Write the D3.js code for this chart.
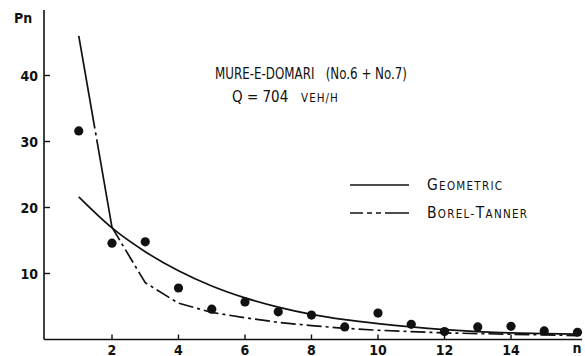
<!DOCTYPE html>
<html>
<head>
<meta charset="utf-8">
<script src="https://cdn.jsdelivr.net/npm/d3@7"></script>
<style>
  html, body { margin: 0; padding: 0; background: #fff; }
  svg { display: block; }
  .tick-label { font-family: "DejaVu Sans Condensed", "DejaVu Sans", sans-serif; font-weight: bold; font-size: 14px; fill: #111; }
  .note { font-family: "DejaVu Sans Condensed", "DejaVu Sans", sans-serif; font-size: 15px; fill: #111; }
</style>
</head>
<body>
<svg id="chart" width="585" height="356"></svg>
<script>
// Observed gap-count distribution and two fitted models
const nValues = [1, 2, 3, 4, 5, 6, 7, 8, 9, 10, 11, 12, 13, 14, 15, 16];
const observed = [31.6, 14.6, 14.8, 7.8, 4.6, 5.7, 4.2, 3.7, 1.9, 4.0, 2.3, 1.2, 1.9, 2.0, 1.3, 1.1];
const geometric = [21.6, 16.9, 13.3, 10.4, 8.1, 6.3, 4.9, 3.8, 3.0, 2.4, 1.9, 1.5, 1.2, 1.0, 0.9, 0.8];
const borelTanner = [46.0, 17.0, 8.6, 5.5, 4.1, 3.3, 2.6, 2.1, 1.7, 1.4, 1.2, 1.0, 0.9, 0.8, 0.7, 0.6];
const xTicks = [2, 4, 6, 8, 10, 12, 14];
const yTicks = [10, 20, 30, 40];
const legendItems = [
  { label: "Geometric", dash: null, width: 75 },
  { label: "Borel-Tanner", dash: "13,4,5,4,5,4,30", width: 100 }
];

const svg = d3.select("#chart");
const x = d3.scaleLinear().domain([0, 16]).range([45.5, 577.5]);
const y = d3.scaleLinear().domain([0, 50]).range([339.5, 9.5]);

const ink = "#111";

// Axes (ticks point inward)
svg.append("line").attr("x1", 44).attr("x2", 44).attr("y1", 10).attr("y2", y(0))
  .attr("stroke", ink).attr("stroke-width", 1.6);
svg.append("line").attr("x1", 44).attr("x2", 582).attr("y1", y(0)).attr("y2", y(0))
  .attr("stroke", ink).attr("stroke-width", 1.6);

svg.selectAll(".ytick").data(yTicks).join("line")
  .attr("x1", 44).attr("x2", 50).attr("y1", d => y(d)).attr("y2", d => y(d))
  .attr("stroke", ink).attr("stroke-width", 1.4);
svg.selectAll(".ylab").data(yTicks).join("text")
  .attr("class", "tick-label").attr("x", 38).attr("y", d => y(d) + 5)
  .attr("text-anchor", "end").text(d => d);

svg.selectAll(".xtick").data(xTicks).join("line")
  .attr("x1", d => x(d)).attr("x2", d => x(d)).attr("y1", y(0)).attr("y2", y(0) - 5)
  .attr("stroke", ink).attr("stroke-width", 1.4);
svg.selectAll(".xlab").data(xTicks).join("text")
  .attr("class", "tick-label").attr("x", d => x(d)).attr("y", 354.5)
  .attr("text-anchor", "middle").text(d => d);

svg.append("text").attr("class", "tick-label").attr("x", 577).attr("y", 353)
  .attr("text-anchor", "middle").text("n");
svg.append("text").attr("class", "tick-label").attr("x", 14).attr("y", 23)
  .text("Pn");

// Model curves
const line = d3.line().x((d, i) => x(nValues[i])).y(d => y(d)).curve(d3.curveMonotoneX);
const lineBT = d3.line().x(d => x(d[0])).y(d => y(d[1]));
const btPoints = nValues.map((n, i) => [n, borelTanner[i]]);

svg.append("path").datum(geometric).attr("d", line)
  .attr("fill", "none").attr("stroke", ink).attr("stroke-width", 1.7);
// steep first step: one long stroke broken by a single dot
svg.append("path").datum(btPoints.slice(0, 2)).attr("d", lineBT)
  .attr("fill", "none").attr("stroke", ink).attr("stroke-width", 1.7)
  .attr("stroke-dasharray", "94,4,3,4,400");
svg.append("path").datum(btPoints.slice(1)).attr("d", lineBT)
  .attr("fill", "none").attr("stroke", ink).attr("stroke-width", 1.7)
  .attr("stroke-dasharray", "15,4,3,4");

// Observed points
svg.selectAll(".pt").data(observed).join("circle")
  .attr("cx", (d, i) => x(nValues[i])).attr("cy", d => y(d)).attr("r", 4.6)
  .attr("fill", ink);

// Annotation
svg.append("text").attr("class", "note").attr("x", 215).attr("y", 79)
  .attr("textLength", 192).attr("lengthAdjust", "spacingAndGlyphs")
  .attr("xml:space", "preserve").text("MURE-E-DOMARI   (No.6 + No.7)");
const q = svg.append("text").attr("class", "note").attr("x", 232).attr("y", 102)
  .attr("xml:space", "preserve");
q.append("tspan").text("Q = 704   ");
q.append("tspan").attr("font-size", "11.5px").attr("letter-spacing", "1px").text("VEH/H");

// Legend
const lg = svg.append("g");
legendItems.forEach((item, i) => {
  const ly = 185 + i * 28;
  lg.append("line").attr("x1", 350).attr("x2", 409).attr("y1", ly).attr("y2", ly)
    .attr("stroke", ink).attr("stroke-width", 1.7)
    .attr("stroke-dasharray", item.dash);
  const t = lg.append("text").attr("class", "note").attr("x", 427).attr("y", ly + 5)
    .attr("textLength", item.width).attr("lengthAdjust", "spacing");
  const words = item.label.split("-");
  words.forEach((w, k) => {
    if (k > 0) t.append("tspan").attr("font-size", "12px").text("-");
    t.append("tspan").attr("font-size", "15.5px").text(w[0].toUpperCase());
    t.append("tspan").attr("font-size", "11.5px").text(w.slice(1).toUpperCase());
  });
});
</script>
</body>
</html>
